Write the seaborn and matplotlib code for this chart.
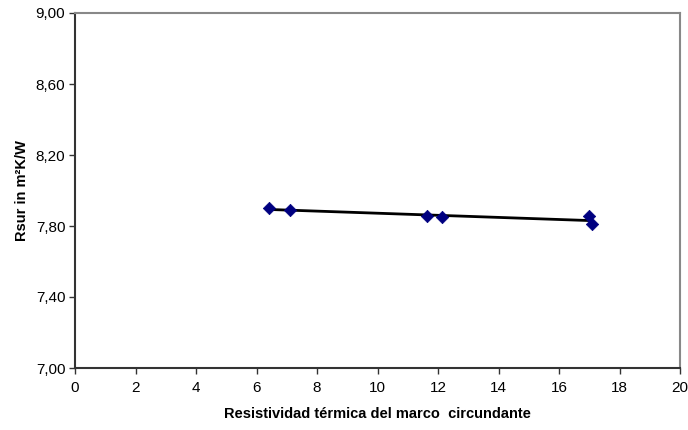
import matplotlib
matplotlib.use("Agg")
import matplotlib.pyplot as plt
import seaborn as sns
import numpy as np
import pandas as pd
from matplotlib.ticker import FuncFormatter

x_vals = [6.42, 7.12, 11.64, 12.13, 16.98, 17.09]
y_vals = [7.900, 7.889, 7.858, 7.849, 7.858, 7.811]
x_ticks = [0, 2, 4, 6, 8, 10, 12, 14, 16, 18, 20]
y_ticks = [7.00, 7.40, 7.80, 8.20, 8.60, 9.00]

sns.set_style("white")
plt.rcParams['font.family'] = ['Liberation Sans', 'DejaVu Sans']
plt.rcParams['text.color'] = 'black'
plt.rcParams['axes.labelcolor'] = 'black'
plt.rcParams['xtick.color'] = 'black'
plt.rcParams['ytick.color'] = 'black'

df = pd.DataFrame({"x": x_vals, "y": y_vals})

fig = plt.figure(figsize=(6.88, 4.30), dpi=100)
ax = fig.add_axes([75/688, 62/430, 605/688, 355/430])

sns.regplot(data=df, x="x", y="y", ax=ax, ci=None, scatter=False,
            line_kws=dict(color="black", lw=2), truncate=True)
sns.scatterplot(data=df, x="x", y="y", ax=ax, marker="D", s=40,
                color="#000080", edgecolor="#000080", zorder=3)

ax.set_xlim(0, 20)
ax.set_ylim(7.0, 9.0)
ax.set_xticks(x_ticks)
ax.set_yticks(y_ticks)
ax.yaxis.set_major_formatter(FuncFormatter(lambda v, p: f"{v:.2f}".replace(".", ",")))
ax.tick_params(axis="both", direction="out", length=4, width=1, color="#333333",
               labelsize=11, labelcolor="black", bottom=True, left=True)
ax.tick_params(axis="x", pad=5)
ax.tick_params(axis="y", pad=3)
for side in ["left", "bottom"]:
    ax.spines[side].set_color("#333333")
    ax.spines[side].set_linewidth(1.5)
for side in ["top", "right"]:
    ax.spines[side].set_color("#888888")
    ax.spines[side].set_linewidth(1.5)

ax.set_xlabel("Resistividad térmica del marco  circundante", fontsize=10.5,
              fontweight="bold", labelpad=9, color="black")
ax.set_ylabel("Rsur in m²K/W", fontsize=10.5, fontweight="bold", labelpad=5,
              color="black")

fig.savefig("out.png", dpi=100)
